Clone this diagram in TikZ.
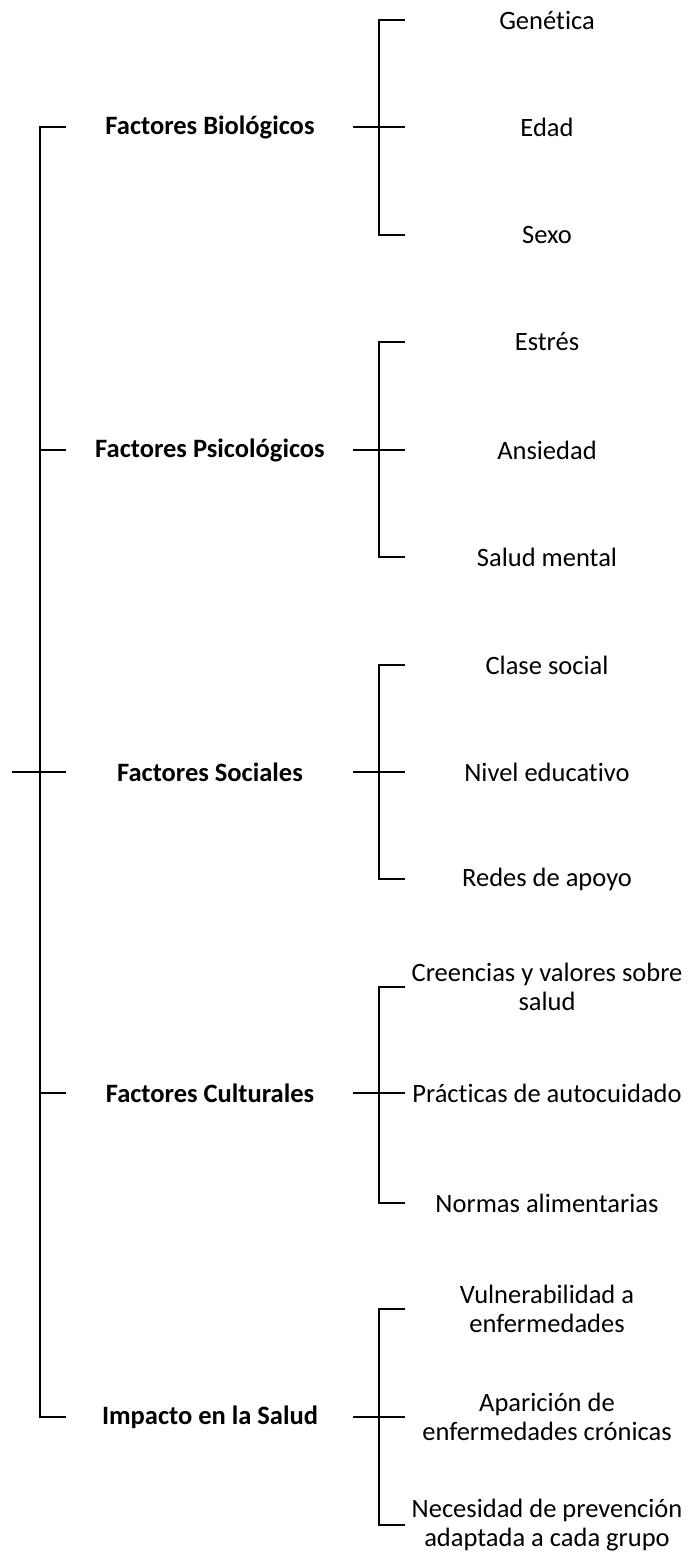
\documentclass[tikz,border=0pt]{standalone}
\usepackage{fontspec}
\setmainfont{Carlito}[Ligatures=NoCommon]
\usepackage{tikz}

\begin{document}
\begin{tikzpicture}[x=1pt, y=1pt,
        line/.style={line width=2.8pt, line join=miter},
        cat/.style={font=\fontsize{26.5}{29}\selectfont\bfseries, align=center},
        item/.style={font=\fontsize{26.5}{29}\selectfont, align=center}]
        \useasboundingbox (0, 0) rectangle (692, -1554);
        % left bracket
        \coordinate (root) at (12, -772);
        \coordinate (rtop) at (40, -127);
        \coordinate (rbot) at (40, -1417);
        \draw[line] (66, -127) -- (rtop) -- (rbot) -- (66, -1417);
        \draw[line] (root) -- (66, -772);
        \draw[line] (40, -450) -- (66, -450);
        \draw[line] (40, -1093) -- (66, -1093);
        % categories
        \node[cat] (bio) at (210, -127) {Factores Biológicos};
        \node[cat] (psi) at (210, -450) {Factores Psicológicos};
        \node[cat] (soc) at (210, -772) {Factores Sociales};
        \node[cat] (cul) at (210, -1093) {Factores Culturales};
        \node[cat] (imp) at (210, -1417) {Impacto en la Salud};
        % items
        \node[item] (gen) at (547, -20) {Genética};
        \node[item] (eda) at (547, -127) {Edad};
        \node[item] (sex) at (547, -235) {Sexo};
        \node[item] (est) at (547, -342) {Estrés};
        \node[item] (ans) at (547, -450) {Ansiedad};
        \node[item] (sam) at (547, -557) {Salud mental};
        \node[item] (cla) at (547, -665) {Clase social};
        \node[item] (niv) at (547, -772) {Nivel educativo};
        \node[item] (red) at (547, -879) {Redes de apoyo};
        \node[item] (cre) at (547, -987) {Creencias y valores sobre\\salud};
        \node[item] (pra) at (547, -1093) {Prácticas de autocuidado};
        \node[item] (nor) at (547, -1203) {Normas alimentarias};
        \node[item] (vul) at (547, -1309) {Vulnerabilidad a\\enfermedades};
        \node[item] (apa) at (547, -1417) {Aparición de\\enfermedades crónicas};
        \node[item] (nec) at (547, -1525) {Necesidad de prevención\\adaptada a cada grupo};
        % brackets
        \coordinate (bioT) at (379, -20);
        \coordinate (bioD) at (379, -235);
        \draw[line] (405, -20) -- (bioT) -- (bioD) -- (405, -235);
        \draw[line] (353, -127) -- (405, -127);
        \coordinate (psiT) at (379, -342);
        \coordinate (psiD) at (379, -557);
        \draw[line] (405, -342) -- (psiT) -- (psiD) -- (405, -557);
        \draw[line] (353, -450) -- (405, -450);
        \coordinate (socT) at (379, -665);
        \coordinate (socD) at (379, -879);
        \draw[line] (405, -665) -- (socT) -- (socD) -- (405, -879);
        \draw[line] (353, -772) -- (405, -772);
        \coordinate (culT) at (379, -987);
        \coordinate (culD) at (379, -1203);
        \draw[line] (405, -987) -- (culT) -- (culD) -- (405, -1203);
        \draw[line] (353, -1093) -- (405, -1093);
        \coordinate (impT) at (379, -1309);
        \coordinate (impD) at (379, -1525);
        \draw[line] (405, -1309) -- (impT) -- (impD) -- (405, -1525);
        \draw[line] (353, -1417) -- (405, -1417);
    \end{tikzpicture}
\end{document}
